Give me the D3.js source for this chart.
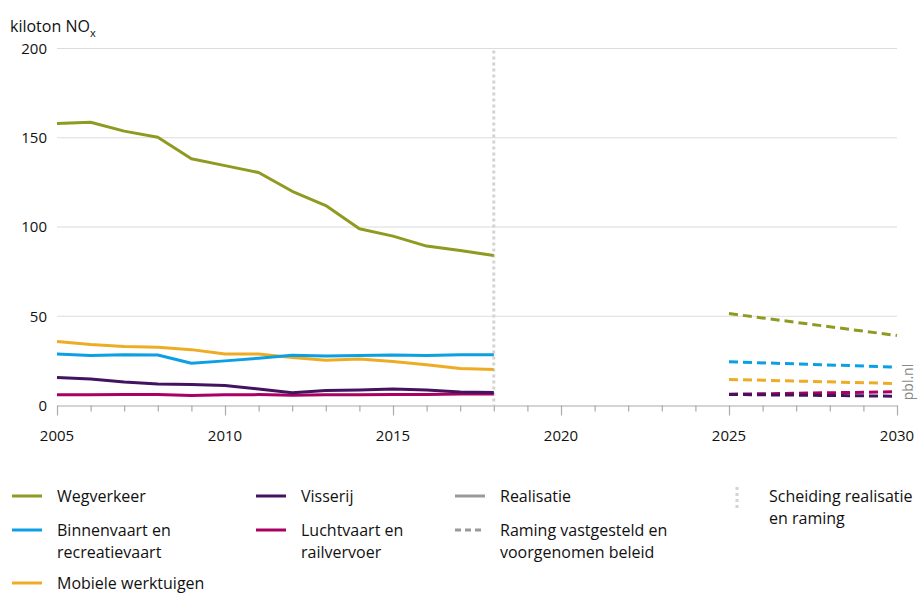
<!DOCTYPE html>
<html>
<head>
<meta charset="utf-8">
<script src="https://cdn.jsdelivr.net/npm/d3@7"></script>
<style>
  body { margin: 0; background: #fff; }
  svg { font-family: "Open Sans", "Noto Sans", sans-serif; }
</style>
</head>
<body>
<svg id="chart" width="919" height="593"></svg>
<script>
const years = d3.range(2005, 2019);
const projYears = [2025, 2030];

const categories = ["Wegverkeer", "Binnenvaart en recreatievaart", "Mobiele werktuigen", "Visserij", "Luchtvaart en railvervoer"];
const colors = ["#8f9a20", "#0ca0e3", "#edac24", "#42145f", "#a90061"];

// realisatie 2005-2018
const wegverkeer   = [158, 158.7, 153.7, 150.3, 138.2, 134.4, 130.5, 120, 112, 99, 94.9, 89.3, 86.8, 84];
const binnenvaart  = [28.8, 28, 28.5, 28.3, 23.7, 25, 26.5, 28.2, 27.8, 28, 28.3, 28, 28.4, 28.4];
const mobiele      = [35.9, 34.2, 33, 32.6, 31.3, 28.8, 28.9, 26.9, 25.4, 26, 24.6, 22.8, 20.7, 20.2];
const visserij     = [15.7, 14.9, 13.2, 12.1, 11.7, 11.2, 9.2, 7.1, 8.4, 8.7, 9.2, 8.7, 7.6, 7.3];
const luchtvaart   = [6, 6, 6.1, 6.1, 5.6, 6, 6.1, 5.8, 6, 6, 6.1, 6.2, 6.4, 6.5];

// raming 2025 en 2030
const wegverkeerR  = [51.5, 39.2];
const binnenvaartR = [24.5, 21.5];
const mobieleR     = [14.6, 12.3];
const visserijR    = [6.2, 5.2];
const luchtvaartR  = [6.3, 7.7];

const realisatie = [wegverkeer, binnenvaart, mobiele, visserij, luchtvaart];
const raming = [wegverkeerR, binnenvaartR, mobieleR, visserijR, luchtvaartR];

const yTicks = [0, 50, 100, 150, 200];
const xTicks = [2005, 2010, 2015, 2020, 2025, 2030];

const svg = d3.select("svg#chart");

const x = d3.scaleLinear().domain([2005, 2030]).range([57, 897]);
const y = d3.scaleLinear().domain([0, 200]).range([405.5, 48.5]);

// gridlines
svg.append("g")
  .selectAll("line")
  .data(yTicks.filter(d => d > 0))
  .join("line")
    .attr("x1", x(2005)).attr("x2", x(2030))
    .attr("y1", d => y(d)).attr("y2", d => y(d))
    .attr("stroke", "#dcdcdc")
    .attr("stroke-width", 1.2);

// y labels
svg.append("g")
  .attr("font-size", 15)
  .attr("fill", "#111")
  .attr("text-anchor", "end")
  .selectAll("text")
  .data(yTicks)
  .join("text")
    .attr("x", 47)
    .attr("y", d => y(d))
    .attr("dy", "0.35em")
    .text(d => d);

// title
const title = svg.append("text")
  .attr("x", 10).attr("y", 32)
  .attr("font-size", 16)
  .attr("fill", "#111");
title.append("tspan").text("kiloton NO");
title.append("tspan").attr("font-size", 11).attr("dy", 5).text("x");

// x axis
const xAxis = svg.append("g")
  .attr("transform", `translate(0,${y(0)})`)
  .call(d3.axisBottom(x)
    .tickValues(d3.range(2005, 2031))
    .tickSize(0)
    .tickFormat(""));
xAxis.select(".domain").attr("stroke", "#aaa").attr("stroke-width", 1.2);
xAxis.selectAll(".tick line")
  .attr("y2", d => d % 5 === 0 ? 10 : 6)
  .attr("stroke", "#aaa")
  .attr("stroke-width", 1.2);

svg.append("g")
  .attr("font-size", 15)
  .attr("fill", "#111")
  .attr("text-anchor", "middle")
  .selectAll("text")
  .data(xTicks)
  .join("text")
    .attr("x", d => x(d))
    .attr("y", 441)
    .text(d => d);

// separator
svg.append("line")
  .attr("x1", x(2018)).attr("x2", x(2018))
  .attr("y1", y(200) + 2).attr("y2", y(0))
  .attr("stroke", "#d4d4d4")
  .attr("stroke-width", 3)
  .attr("stroke-dasharray", "3,3");

const line = d3.line().x(d => x(d[0])).y(d => y(d[1]));

// realisatie lines
svg.append("g")
  .selectAll("path")
  .data(realisatie.map((s, i) => ({ c: colors[i], pts: years.map((yr, j) => [yr, s[j]]) })).reverse())
  .join("path")
    .attr("d", d => line(d.pts))
    .attr("fill", "none")
    .attr("stroke", d => d.c)
    .attr("stroke-width", 3)
    .attr("stroke-linejoin", "round");

// raming lines
svg.append("g")
  .selectAll("path")
  .data(raming.map((s, i) => ({ c: colors[i], pts: projYears.map((yr, j) => [yr, s[j]]) })).reverse())
  .join("path")
    .attr("d", d => line(d.pts))
    .attr("fill", "none")
    .attr("stroke", d => d.c)
    .attr("stroke-width", 3)
    .attr("stroke-dasharray", "9,5");

// pbl.nl
svg.append("text")
  .attr("transform", "translate(913,382) rotate(-90)")
  .attr("text-anchor", "middle")
  .attr("font-size", 14)
  .attr("fill", "#888")
  .text("pbl.nl");

// legend
const legend = [
  { label: ["Wegverkeer"], color: colors[0], x: 12, y: 496 },
  { label: ["Binnenvaart en", "recreatievaart"], color: colors[1], x: 12, y: 530 },
  { label: ["Mobiele werktuigen"], color: colors[2], x: 12, y: 583 },
  { label: ["Visserij"], color: colors[3], x: 256, y: 496 },
  { label: ["Luchtvaart en", "railvervoer"], color: colors[4], x: 256, y: 530 },
  { label: ["Realisatie"], color: "#999", x: 455, y: 496 },
  { label: ["Raming vastgesteld en", "voorgenomen beleid"], color: "#999", x: 455, y: 530, dash: "6,4" }
];

const lg = svg.append("g").attr("font-size", 16).attr("fill", "#111");
legend.forEach(d => {
  lg.append("line")
    .attr("x1", d.x).attr("x2", d.x + 30)
    .attr("y1", d.y).attr("y2", d.y)
    .attr("stroke", d.color)
    .attr("stroke-width", 3)
    .attr("stroke-dasharray", d.dash || null);
  const t = lg.append("text").attr("x", d.x + 45).attr("y", d.y).attr("dy", "0.35em");
  d.label.forEach((l, i) => t.append("tspan").attr("x", d.x + 45).attr("dy", i ? 22 : "0.35em").text(l));
});

lg.append("line")
  .attr("x1", 737).attr("x2", 737)
  .attr("y1", 487).attr("y2", 509)
  .attr("stroke", "#d4d4d4")
  .attr("stroke-width", 3)
  .attr("stroke-dasharray", "3,3");
const st = lg.append("text").attr("x", 769).attr("y", 496);
st.append("tspan").attr("x", 769).attr("dy", "0.35em").text("Scheiding realisatie");
st.append("tspan").attr("x", 769).attr("dy", 22).text("en raming");
</script>
</body>
</html>
